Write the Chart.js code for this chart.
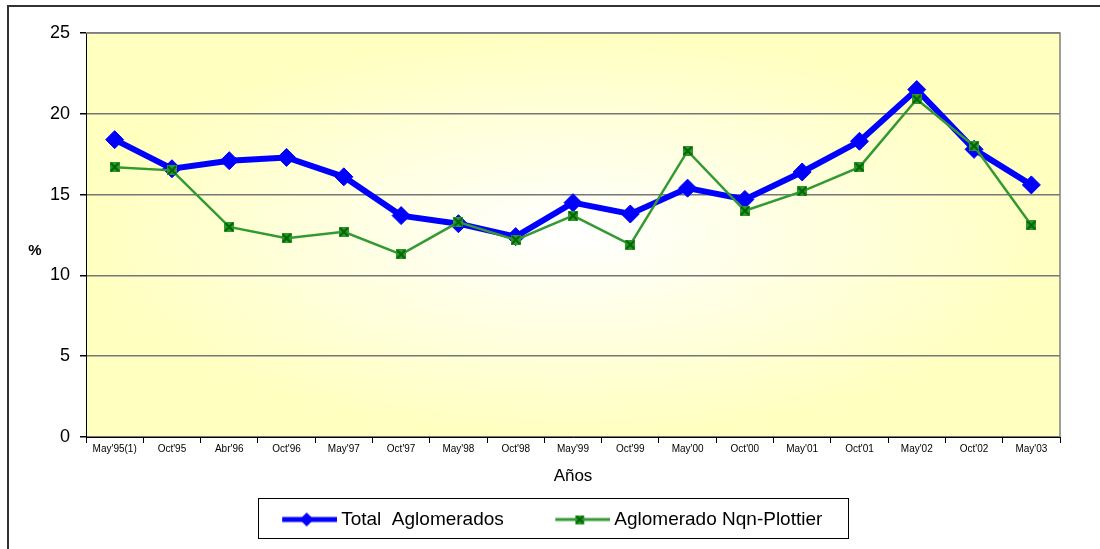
<!DOCTYPE html>
<html>
<head>
<meta charset="utf-8">
<script src="https://cdn.jsdelivr.net/npm/chart.js@4"></script>
<style>
  body { margin: 0; background: #fff; }
  #grafico { display: block; }
</style>
</head>
<body>
<canvas id="grafico" width="1100" height="549"></canvas>
<script>
// datos de desocupacion (%)
const periodos = ["May'95(1)", "Oct'95", "Abr'96", "Oct'96", "May'97", "Oct'97", "May'98", "Oct'98", "May'99", "Oct'99", "May'00", "Oct'00", "May'01", "Oct'01", "May'02", "Oct'02", "May'03"];
const totalAglomerados = [18.4, 16.6, 17.1, 17.3, 16.1, 13.7, 13.2, 12.4, 14.5, 13.8, 15.4, 14.7, 16.4, 18.3, 21.5, 17.8, 15.6];
const nqnPlottier = [16.7, 16.5, 13.0, 12.3, 12.7, 11.3, 13.3, 12.2, 13.7, 11.9, 17.7, 14.0, 15.2, 16.7, 20.9, 18.0, 13.1];
const yMin = 0, yMax = 25, yPaso = 5;

const fuente = "'Liberation Sans', Arial, sans-serif";

// marcador cuadrado con cruz (estilo excel)
function marcaCruz(size) {
  var c = document.createElement('canvas');
  c.width = size; c.height = size;
  var g = c.getContext('2d');
  g.fillStyle = '#2e9a2e';
  g.fillRect(0, 0, size, size);
  g.strokeStyle = '#006400';
  g.lineWidth = 2;
  g.beginPath();
  g.moveTo(1, 1); g.lineTo(size - 1, size - 1);
  g.moveTo(size - 1, 1); g.lineTo(1, size - 1);
  g.stroke();
  return c;
}

// iconos de la leyenda: linea + marcador (parte izquierda transparente)
const ANCHO_ICONO = 101, LARGO_LINEA = 55;
function iconoLeyenda(color, ancho, marcador) {
  var c = document.createElement('canvas');
  c.width = ANCHO_ICONO; c.height = 18;
  var g = c.getContext('2d');
  var x0 = ANCHO_ICONO - LARGO_LINEA;
  g.strokeStyle = color;
  g.lineWidth = ancho;
  g.beginPath();
  g.moveTo(x0, 9); g.lineTo(ANCHO_ICONO, 9);
  g.stroke();
  marcador(g, x0 + LARGO_LINEA / 2 - 3);
  return c;
}

var iconoAzul = iconoLeyenda('#0000ff', 5, function (g, cx) {
  g.fillStyle = '#0000ff';
  g.beginPath();
  g.moveTo(cx, 2); g.lineTo(cx + 7, 9); g.lineTo(cx, 16); g.lineTo(cx - 7, 9);
  g.closePath(); g.fill();
});
var iconoVerde = iconoLeyenda('#339933', 3, function (g, cx) {
  g.drawImage(marcaCruz(9), cx - 4.5, 4.5);
});

const fondoPlugin = {
  id: 'fondo',
  beforeDraw(chart) {
    const ctx = chart.ctx;
    const a = chart.chartArea;
    // borde exterior
    ctx.save();
    ctx.strokeStyle = '#333';
    ctx.lineWidth = 2;
    ctx.beginPath();
    ctx.moveTo(8, 549); ctx.lineTo(8, 6); ctx.lineTo(1100, 6);
    ctx.stroke();
    // degradado desde el centro
    const w = a.right - a.left, h = a.bottom - a.top;
    const cx = a.left + w / 2, cy = a.top + h / 2;
    ctx.beginPath();
    ctx.rect(a.left, a.top, w, h);
    ctx.clip();
    ctx.translate(cx, cy);
    ctx.scale(1, h / w);
    const grad = ctx.createRadialGradient(0, 0, 0, 0, 0, w / 2);
    grad.addColorStop(0, '#ffffff');
    grad.addColorStop(1, '#ffffc0');
    ctx.fillStyle = grad;
    ctx.fillRect(-w, -w, 2 * w, 2 * w);
    ctx.restore();
  },
  afterDraw(chart) {
    const ctx = chart.ctx;
    const a = chart.chartArea;
    ctx.save();
    // borde gris arriba y derecha
    ctx.strokeStyle = '#808080';
    ctx.lineWidth = 1.5;
    ctx.beginPath();
    ctx.moveTo(a.left, a.top); ctx.lineTo(a.right, a.top); ctx.lineTo(a.right, a.bottom);
    ctx.stroke();
    // titulo eje y
    ctx.fillStyle = '#000';
    ctx.font = 'bold 15px ' + fuente;
    ctx.textAlign = 'center';
    ctx.textBaseline = 'middle';
    ctx.fillText('%', 35, 251);
    // recuadro de la leyenda
    const cajas = chart.legend.legendHitBoxes;
    if (cajas && cajas.length) {
      const ult = cajas[cajas.length - 1];
      const x0 = cajas[0].left + 16;
      const x1 = ult.left + ult.width + 25;
      ctx.strokeStyle = '#000';
      ctx.lineWidth = 1;
      ctx.strokeRect(Math.round(x0) + 0.5, 498.5, Math.round(x1 - x0), 40);
    }
    ctx.restore();
  }
};

var ctx = document.getElementById('grafico').getContext('2d');
var chart = new Chart(ctx, {
  type: 'line',
  data: {
    labels: periodos,
    datasets: [{
      label: 'Total  Aglomerados',
      data: totalAglomerados,
      borderColor: '#0000ff',
      backgroundColor: '#0000ff',
      borderWidth: 6,
      pointStyle: 'rectRot',
      pointRadius: 9,
      pointBorderWidth: 1,
      fill: false,
      tension: 0,
      order: 2
    }, {
      label: 'Aglomerado Nqn-Plottier',
      data: nqnPlottier,
      borderColor: '#339933',
      backgroundColor: '#2e9a2e',
      borderWidth: 2.5,
      pointStyle: marcaCruz(10),
      pointRadius: 5,
      fill: false,
      tension: 0,
      order: 1
    }]
  },
  options: {
    responsive: false,
    animation: false,
    layout: { padding: { left: 4, top: 33, right: 40, bottom: 10 } },
    plugins: {
      tooltip: { enabled: false },
      legend: {
        position: 'bottom',
        labels: {
          color: '#000',
          font: { family: fuente, size: 19 },
          padding: 11,
          usePointStyle: true,
          pointStyleWidth: 90,
          boxHeight: 18,
          generateLabels(chart) {
            var items = Chart.defaults.plugins.legend.labels.generateLabels(chart);
            items.sort(function (a, b) { return a.datasetIndex - b.datasetIndex; });
            items.forEach(function (it) {
              it.pointStyle = it.datasetIndex === 0 ? iconoAzul : iconoVerde;
            });
            return items;
          }
        }
      }
    },
    scales: {
      x: {
        offset: true,
        grid: { offset: true, drawOnChartArea: false, color: '#000', tickColor: '#000', tickLength: 6 },
        border: { color: '#000', width: 1 },
        ticks: { color: '#000', font: { family: fuente, size: 10 }, maxRotation: 0, autoSkip: false, padding: 0 },
        title: { display: true, text: 'Años', color: '#000', font: { family: fuente, size: 17 }, padding: { top: 4, bottom: 12 } },
        afterFit(s) { s.height = 62; }
      },
      y: {
        min: yMin,
        max: yMax,
        ticks: { stepSize: yPaso, color: '#000', font: { family: fuente, size: 18 }, padding: 10 },
        grid: { color: '#777', tickColor: '#000', tickLength: 6, lineWidth: 1.5 },
        border: { color: '#000', width: 1 },
        afterFit(s) { s.width = 82; }
      }
    }
  },
  plugins: [fondoPlugin]
});
</script>
</body>
</html>
